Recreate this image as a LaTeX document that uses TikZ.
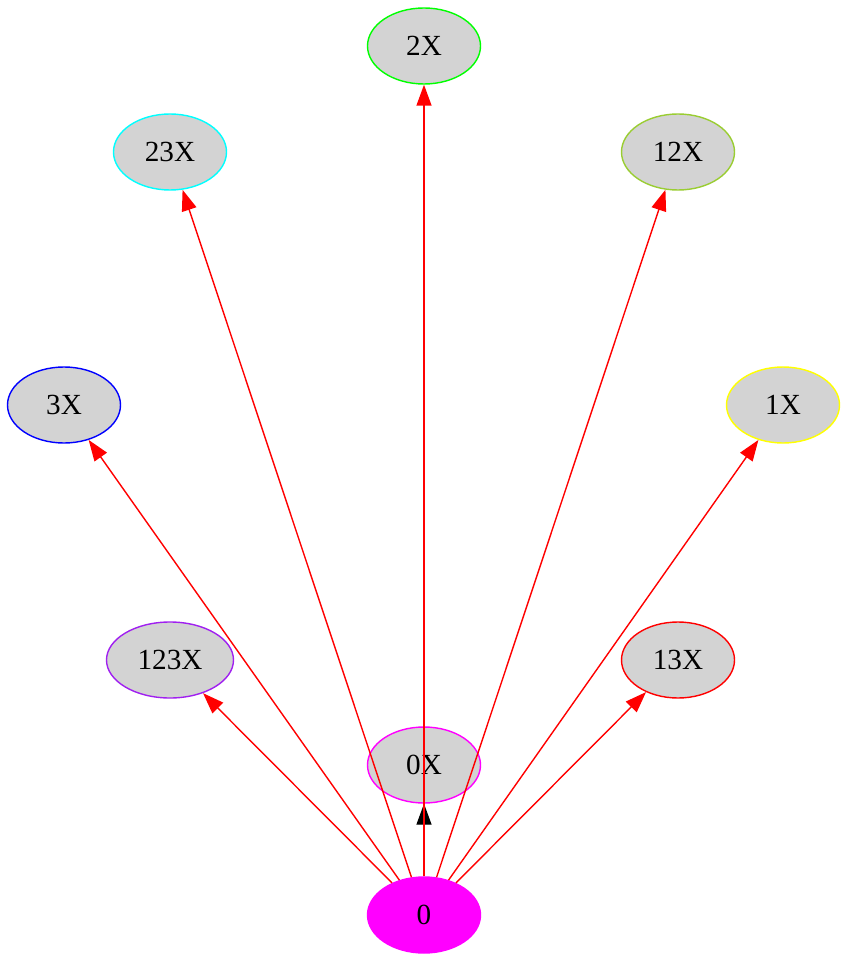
\documentclass[tikz,border=0pt]{standalone}
\usepackage{fontspec}
\setmainfont{Liberation Serif}
\usetikzlibrary{arrows.meta,shapes.geometric}
\definecolor{lgray}{HTML}{D3D3D3}
\definecolor{ygreen}{HTML}{9ACD32}
\definecolor{xpurple}{HTML}{A020F0}
\definecolor{xmagenta}{HTML}{FF00FF}
\definecolor{xcyan}{HTML}{00FFFF}
\definecolor{xgreen}{HTML}{00FF00}
\definecolor{xblue}{HTML}{0000FF}
\definecolor{xyellow}{HTML}{FFFF00}
\definecolor{xred}{HTML}{FF0000}
\begin{document}
\begin{tikzpicture}[x=0.5pt, y=-0.5pt,
    st/.style={ellipse, draw=#1, fill=lgray, line width=0.7pt, inner sep=0pt,
      minimum width=56.5pt, minimum height=38pt, font=\fontsize{14.6}{17}\selectfont},
    ed/.style={-{Triangle[length=10.5pt, width=7.5pt]}, line width=0.7pt, draw=xred, fill=xred}]
    \useasboundingbox (0,0) rectangle (849,962);
    \node[st=xgreen] (2X) at (424, 46) {2X};
    \node[st=xcyan] (23X) at (170, 152) {23X};
    \node[st=ygreen] (12X) at (678, 152) {12X};
    \node[st=xblue] (3X) at (64, 405) {3X};
    \node[st=xyellow] (1X) at (783, 405) {1X};
    \node[st=xpurple, minimum width=63.5pt] (123X) at (170, 660) {123X};
    \node[st=xred] (13X) at (678, 660) {13X};
    \node[st=xmagenta] (0X) at (424, 765) {0X};
    \node[st=xmagenta, fill=xmagenta] (n0) at (424, 915) {0};
    \draw[ed, draw=black, fill=black] (n0) -- (0X);
    \draw[ed] (n0) -- (123X);
    \draw[ed] (n0) -- (3X);
    \draw[ed] (n0) -- (23X);
    \draw[ed] (n0) -- (2X);
    \draw[ed] (n0) -- (12X);
    \draw[ed] (n0) -- (1X);
    \draw[ed] (n0) -- (13X);
  \end{tikzpicture}
\end{document}
